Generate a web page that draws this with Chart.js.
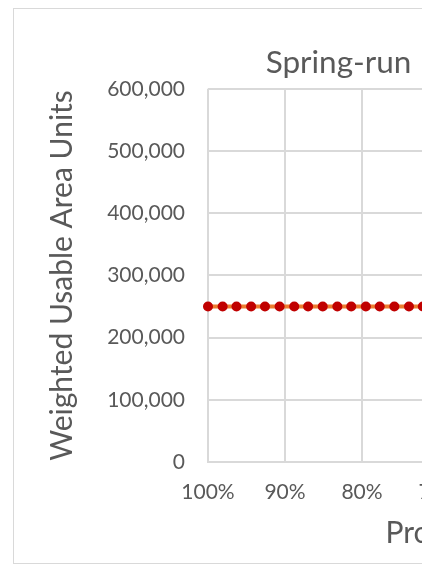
<!DOCTYPE html>
<html>
<head>
<meta charset="utf-8">
<script src="https://cdn.jsdelivr.net/npm/chart.js@4.4.1/dist/chart.umd.min.js"></script>
<style>
  html, body { margin: 0; padding: 0; background: #ffffff; }
  #crop { position: absolute; left: 0; top: 0; width: 422px; height: 565px; overflow: hidden; background: #ffffff; }
  #frame { position: absolute; left: 13px; top: 8px; width: 649px; height: 554px; border: 1px solid #d9d9d9; background: #ffffff; }
  canvas { display: block; }
</style>
</head>
<body>
<div id="crop">
  <div id="frame"><canvas id="c" width="649" height="554"></canvas></div>
</div>
<script>
// ---- data ----
const chartTitle = 'Spring-run';
const yAxisTitle = 'Weighted Usable Area Units';
const xAxisTitle = 'Pro';
const xShares = [1.000, 0.981, 0.963, 0.944, 0.926, 0.907, 0.888, 0.870, 0.851,
                 0.832, 0.814, 0.795, 0.777, 0.758, 0.739, 0.721, 0.702, 0.683];
const wuaValues = [250000, 250000, 250000, 250000, 250000, 250000, 250000, 250000, 250000,
                   250000, 250000, 250000, 250000, 250000, 250000, 250000, 250000, 250000];
const yMin = 0, yMax = 600000, yStep = 100000;
const xMax = 1.0, xMin = 0.4805, xStep = 0.1;

const points = xShares.map((x, i) => ({ x: x, y: wuaValues[i] }));
const textColor = '#595959';
const gridColor = '#d9d9d9';
Chart.defaults.font.family = 'Lato';

new Chart(document.getElementById('c'), {
  type: 'scatter',
  data: {
    datasets: [{
      data: points,
      showLine: true,
      borderColor: '#ED7D31',
      borderWidth: 4,
      pointRadius: 5,
      pointBackgroundColor: '#C00000',
      pointBorderColor: '#C00000',
      pointBorderWidth: 0,
      clip: false
    }]
  },
  options: {
    responsive: false,
    animation: false,
    layout: { padding: 0 },
    plugins: {
      legend: { display: false },
      tooltip: { enabled: false },
      title: {
        display: true,
        text: chartTitle,
        color: textColor,
        font: { size: 31.5, weight: 'normal' },
        padding: { top: 35, bottom: 7 }
      }
    },
    scales: {
      x: {
        type: 'linear',
        reverse: true,
        min: xMin,
        max: xMax,
        afterFit: s => { s.height = 101; },
        grid: { color: gridColor, lineWidth: 2, drawTicks: false },
        border: { display: true, color: gridColor, width: 2 },
        ticks: {
          stepSize: xStep,
          autoSkip: false,
          maxRotation: 0,
          padding: 18,
          color: textColor,
          font: { size: 21 },
          callback: v => Math.round(v * 100) + '%'
        },
        title: {
          display: true,
          text: xAxisTitle,
          color: textColor,
          font: { size: 30, weight: 'normal' },
          padding: { top: 0, bottom: 12 }
        }
      },
      y: {
        type: 'linear',
        position: 'left',
        min: yMin,
        max: yMax,
        afterFit: s => { s.width = 194; },
        grid: { color: gridColor, lineWidth: 2, drawTicks: false },
        border: { display: false },
        ticks: {
          stepSize: yStep,
          padding: 23,
          color: textColor,
          font: { size: 21 },
          callback: v => v.toLocaleString('en-US')
        },
        title: {
          display: true,
          text: yAxisTitle,
          color: textColor,
          font: { size: 30, weight: 'normal' },
          padding: { top: 30, bottom: 0 }
        }
      },
      yRight: {
        type: 'linear',
        position: 'right',
        display: true,
        afterFit: s => { s.width = 55; },
        grid: { display: false, drawOnChartArea: false },
        border: { display: false },
        ticks: { display: false }
      }
    }
  }
});
</script>
</body>
</html>
